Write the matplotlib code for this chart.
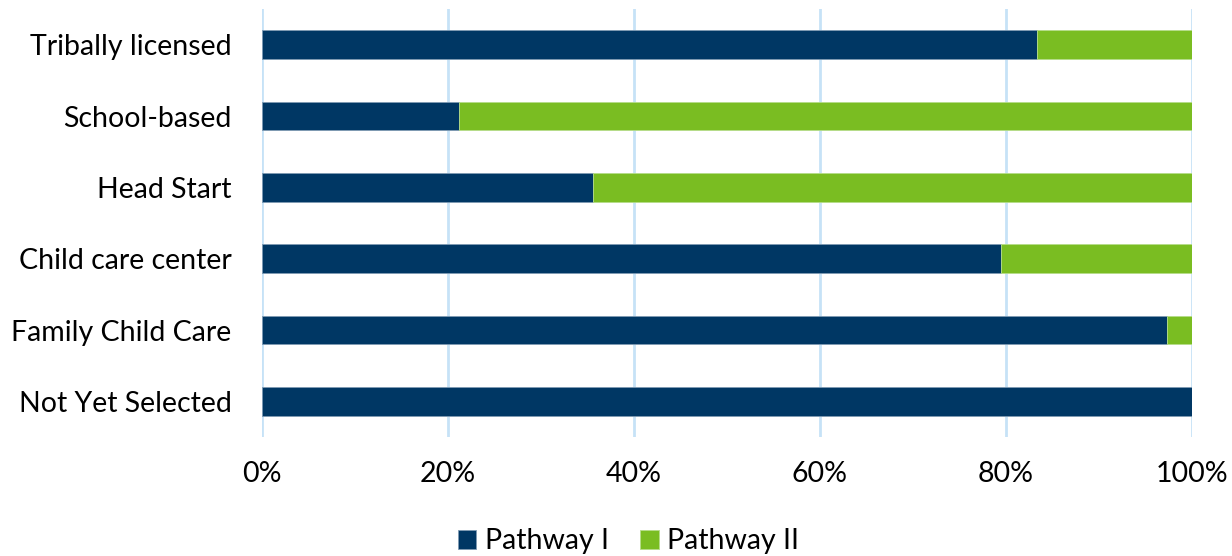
import numpy as np
import matplotlib.pyplot as plt
from matplotlib.ticker import PercentFormatter

plt.rcParams['font.family'] = ['Lato', 'DejaVu Sans']

categories = ['Tribally licensed', 'School-based', 'Head Start',
              'Child care center', 'Family Child Care', 'Not Yet Selected']
pathway_1 = [83.3, 21.2, 35.6, 79.5, 97.3, 100.0]
pathway_2 = [16.7, 78.8, 64.4, 20.5, 2.7, 0.0]

navy = '#003764'
green = '#7abd22'

fig = plt.figure(figsize=(12.32, 5.56), dpi=100)
ax = fig.add_axes([0.2127, 0.214, 0.7548, 0.7698])

y = np.arange(len(categories))
ax.barh(y, pathway_1, height=0.4, color=navy, edgecolor='#7f9bb3', linewidth=0.6, label='Pathway I')
ax.barh(y, pathway_2, left=pathway_1, height=0.4, color=green, edgecolor='#b5dc8a', linewidth=0.6, label='Pathway II')

ax.set_xlim(0, 100)
ax.set_ylim(len(categories) - 0.5, -0.5)
ax.set_yticks(y)
ax.set_yticklabels(categories, fontsize=20.5)
ax.set_xticks(np.arange(0, 101, 20))
ax.xaxis.set_major_formatter(PercentFormatter(decimals=0))
ax.tick_params(axis='x', length=0, pad=17, labelsize=20.5)
ax.tick_params(axis='y', length=0, pad=22)

ax.grid(axis='x', color='#c6e2f7', linewidth=2)
ax.set_axisbelow(True)
for s in ax.spines.values():
    s.set_visible(False)

ax.legend(loc='center', bbox_to_anchor=(0.394, -0.243), ncol=2, frameon=False,
          fontsize=20.5, handlelength=0.65, handleheight=0.65, handletextpad=0.3,
          columnspacing=1.1)

fig.savefig('out.png', dpi=100)
